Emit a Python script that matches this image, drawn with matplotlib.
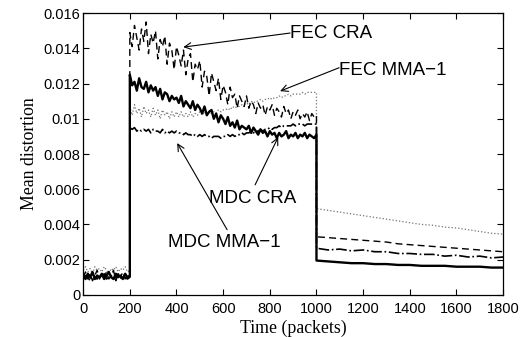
#!/usr/bin/env python3
"""Mean distortion over time for the FEC / MDC schemes (CRA and MMA-1)."""

import numpy as np
import matplotlib
matplotlib.use("Agg")
import matplotlib.pyplot as plt

# packet grid for the three phases of the run
t_pre = np.arange(0, 201, 10)
t_mid = np.arange(200, 1001, 10)
t_post = np.arange(1000, 1801, 50)

# mean distortion values, in units of 1e-4
fec_cra_pre = [10, 13, 9, 12, 8, 11, 14, 9, 12, 10, 13, 9, 11, 14, 8, 12, 10, 13, 9, 11, 10]
fec_cra_mid = [
    149, 141, 153, 146, 139, 151, 144, 155, 137, 148,
    143, 150, 134, 145, 141, 147, 131, 143, 139, 128,
    141, 136, 130, 139, 125, 134, 137, 121, 131, 128,
    133, 118, 127, 124, 113, 126, 121, 116, 123, 111,
    119, 115, 108, 118, 112, 114, 106, 113, 110, 107,
    113, 106, 110, 108, 103, 109, 106, 108, 102, 107,
    105, 108, 102, 106, 104, 101, 107, 103, 105, 100,
    104, 102, 105, 100, 103, 101, 104, 99, 103, 101,
    102,
]
fec_cra_post = [33, 32.5, 32, 31.5, 31, 30.5, 30, 29, 28.5, 28, 27.5, 27, 26.5, 26, 25.5, 25, 24.5]

fec_mma_pre = [14, 16, 13, 15, 12, 16, 14, 15, 13, 16, 14, 12, 15, 14, 16, 13, 15, 14, 16, 13, 14]
fec_mma_mid = [
    107, 102, 108, 103, 106, 101, 107, 103, 105, 101,
    106, 102, 105, 100, 105, 102, 104, 100, 104, 101,
    104, 101, 104, 101, 103, 101, 104, 101, 103, 102,
    104, 102, 104, 102, 104, 103, 104, 103, 105, 104,
    105, 105, 106, 105, 107, 106, 107, 107, 108, 108,
    109, 108, 110, 109, 110, 110, 111, 110, 111, 111,
    112, 111, 112, 112, 113, 112, 113, 113, 114, 113,
    114, 114, 114, 114, 115, 114, 115, 115, 115, 115,
    115,
]
fec_mma_post = [49, 48, 47, 46, 45, 44, 43, 42, 41, 40, 39.5, 38.5, 38, 37, 36, 35, 34.5]

mdc_cra_pre = [11, 9, 12, 10, 13, 9, 11, 10, 12, 9, 11, 13, 10, 9, 12, 10, 11, 9, 12, 10, 11]
mdc_cra_mid = [
    125, 119, 121, 116, 123, 118, 117, 121, 115, 119,
    116, 118, 113, 117, 111, 115, 114, 110, 113, 111,
    112, 109, 113, 107, 110, 108, 106, 110, 105, 108,
    106, 103, 107, 102, 104, 105, 100, 103, 98, 102,
    100, 97, 101, 96, 98, 95, 99, 94, 96, 95,
    94, 96, 92, 95, 93, 91, 94, 92, 93, 90,
    93, 91, 92, 89, 92, 90, 91, 93, 89, 91,
    90, 92, 89, 91, 90, 92, 89, 91, 90, 89,
    91,
]
mdc_cra_post = [19.5, 19, 18.5, 18, 18, 17.5, 17.5, 17, 17, 16.5, 16.5, 16.5, 16, 16, 16, 15.5, 15.5]

mdc_mma_pre = [9, 11, 10, 8, 12, 10, 9, 11, 10, 12, 9, 10, 11, 9, 10, 12, 9, 11, 10, 9, 10]
mdc_mma_mid = [
    95, 94, 95, 93, 94, 93, 94, 93, 94, 92,
    94, 93, 93, 92, 94, 92, 93, 92, 93, 92,
    93, 92, 92, 91, 92, 91, 91, 90, 91, 90,
    91, 90, 91, 90, 90, 89, 90, 90, 90, 89,
    90, 90, 91, 90, 91, 90, 91, 91, 92, 91,
    92, 92, 93, 92, 93, 93, 94, 93, 94, 94,
    95, 94, 95, 95, 96, 95, 96, 96, 96, 96,
    97, 96, 97, 97, 97, 96, 97, 97, 97, 97,
    97,
]
mdc_mma_post = [26.5, 25.5, 26, 25, 25.5, 24.5, 24.5, 23.5, 23.5, 23, 23, 22, 22.5, 21.5, 22, 21, 21.5]


def series(pre, mid, post):
    t = np.concatenate([t_pre, t_mid, t_post])
    d = np.concatenate([pre, mid, post]) * 1e-4
    return t, d


plt.rcParams["font.family"] = ["Liberation Sans", "DejaVu Sans"]

fig = plt.figure(figsize=(5.23, 3.37), dpi=100)
ax = fig.add_axes([0.159, 0.125, 0.803, 0.836])

ax.plot(*series(fec_mma_pre, fec_mma_mid, fec_mma_post), ls=":", color="0.45", lw=0.9)
ax.plot(*series(fec_cra_pre, fec_cra_mid, fec_cra_post), ls=(0, (5, 3)), color="black", lw=1.0)
ax.plot(*series(mdc_mma_pre, mdc_mma_mid, mdc_mma_post), ls="-.", color="black", lw=1.2)
ax.plot(*series(mdc_cra_pre, mdc_cra_mid, mdc_cra_post), ls="-", color="black", lw=1.7)

ax.set_xlim(0, 1800)
ax.set_ylim(0, 0.016)
ax.set_xticks(np.arange(0, 1801, 200))
ax.set_yticks(np.arange(0, 0.0161, 0.002))
ax.set_yticklabels(["0", "0.002", "0.004", "0.006", "0.008", "0.01", "0.012", "0.014", "0.016"])
ax.tick_params(direction="in", top=True, right=True, length=4, width=0.8,
               labelsize=10.5)
ax.tick_params(axis="x", pad=5)
ax.tick_params(axis="y", pad=2)
for s in ax.spines.values():
    s.set_linewidth(0.9)

ax.set_xlabel("Time (packets)", family="Liberation Serif", fontsize=12.8, labelpad=2.5)
ax.set_ylabel("Mean distortion", family="Liberation Serif", fontsize=12.8, labelpad=4)

arrow = dict(arrowstyle="->", color="black", lw=0.8, shrinkA=0, shrinkB=0,
             mutation_scale=12)
labels = [
    ("FEC CRA", (887, 0.01487), (887, 0.01487), (429, 0.01407)),
    ("FEC MMA\u22121", (1097, 0.01277), (1097, 0.01290), (844, 0.01157)),
    ("MDC CRA", (540, 0.0055), (737, 0.00625), (836, 0.00896)),
    ("MDC MMA\u22121", (364, 0.0030), (617, 0.00370), (403, 0.00862)),
]
for text, pos, start, tip in labels:
    ax.annotate("", xy=tip, xytext=start, arrowprops=arrow)
    ax.text(pos[0], pos[1], text, fontsize=13.5, ha="left", va="center")

fig.savefig("out.png", dpi=100)
